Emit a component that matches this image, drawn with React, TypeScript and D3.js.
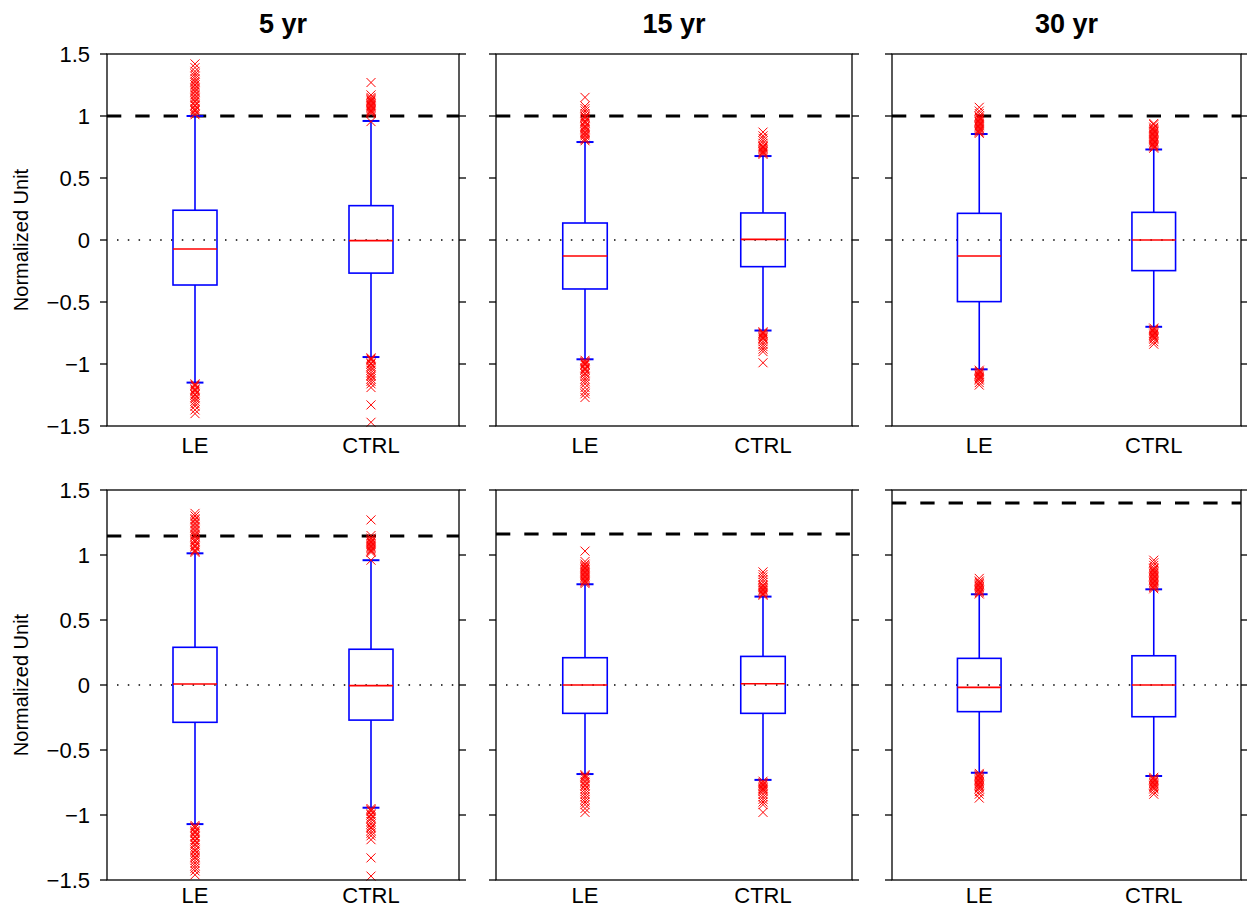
import React from 'react'
import * as d3 from 'd3'

const PERIODS = ['5 yr', '15 yr', '30 yr']
const GROUPS = ['LE', 'CTRL']
const Y_TICKS = [-1.5, -1, -0.5, 0, 0.5, 1, 1.5]

// panels go row by row: top row (5, 15, 30 yr), then bottom row
// each entry: [lower whisker, q1, median, q3, upper whisker]
const LE_STATS = [
  [-1.15, -0.363, -0.073, 0.24, 1.0],
  [-0.962, -0.395, -0.129, 0.137, 0.79],
  [-1.043, -0.497, -0.129, 0.215, 0.855],
  [-1.07, -0.287, 0.008, 0.29, 1.013],
  [-0.685, -0.218, 0.0, 0.21, 0.775],
  [-0.675, -0.205, -0.018, 0.205, 0.698]
]
const CTRL_STATS = [
  [-0.944, -0.267, -0.005, 0.277, 0.96],
  [-0.73, -0.215, 0.005, 0.218, 0.677],
  [-0.7, -0.247, 0.0, 0.223, 0.73],
  [-0.944, -0.27, -0.005, 0.275, 0.96],
  [-0.73, -0.218, 0.01, 0.22, 0.68],
  [-0.7, -0.244, 0.0, 0.225, 0.736]
]
const THRESHOLDS = [1.0, 1.0, 1.0, 1.146, 1.162, 1.4]

const LE_OUTLIERS = [
  [1.01, 1.02, 1.04, 1.05, 1.06, 1.08, 1.09, 1.11, 1.12, 1.14, 1.15, 1.17, 1.19, 1.2, 1.22, 1.23, 1.25, 1.27, 1.28, 1.3, 1.32, 1.34, 1.36, 1.39, 1.42,
    -1.16, -1.17, -1.18, -1.2, -1.21, -1.22, -1.24, -1.25, -1.27, -1.28, -1.3, -1.32, -1.34, -1.37, -1.4],
  [0.8, 0.81, 0.82, 0.84, 0.85, 0.86, 0.87, 0.89, 0.9, 0.91, 0.92, 0.94, 0.95, 0.96, 0.98, 0.99, 1.0, 1.02, 1.04, 1.06, 1.08, 1.15,
    -0.97, -0.98, -0.99, -1.0, -1.01, -1.03, -1.04, -1.05, -1.07, -1.08, -1.1, -1.12, -1.14, -1.16, -1.19, -1.22, -1.24, -1.27],
  [0.86, 0.87, 0.88, 0.89, 0.9, 0.91, 0.92, 0.93, 0.94, 0.95, 0.96, 0.97, 0.98, 0.99, 1.0, 1.02, 1.04, 1.07,
    -1.05, -1.06, -1.07, -1.08, -1.09, -1.1, -1.11, -1.12, -1.13, -1.15, -1.17],
  [1.02, 1.03, 1.04, 1.06, 1.07, 1.08, 1.1, 1.11, 1.12, 1.14, 1.15, 1.16, 1.18, 1.19, 1.21, 1.22, 1.24, 1.25, 1.27, 1.28, 1.3, 1.32,
    -1.08, -1.09, -1.1, -1.12, -1.13, -1.14, -1.16, -1.17, -1.19, -1.2, -1.22, -1.23, -1.25, -1.27, -1.28, -1.3, -1.32, -1.33, -1.35, -1.37, -1.39, -1.41, -1.43, -1.46],
  [0.78, 0.79, 0.8, 0.81, 0.82, 0.83, 0.84, 0.85, 0.86, 0.87, 0.88, 0.89, 0.9, 0.91, 0.92, 0.93, 0.95, 1.03,
    -0.69, -0.7, -0.71, -0.72, -0.74, -0.75, -0.77, -0.78, -0.8, -0.82, -0.84, -0.86, -0.88, -0.9, -0.92, -0.95, -0.98],
  [0.7, 0.71, 0.72, 0.73, 0.74, 0.75, 0.76, 0.77, 0.78, 0.79, 0.8, 0.82,
    -0.68, -0.69, -0.7, -0.71, -0.72, -0.73, -0.74, -0.75, -0.76, -0.77, -0.78, -0.79, -0.8, -0.82, -0.84, -0.87]
]
const CTRL_OUTLIERS = [
  [0.955, 1.02, 1.03, 1.04, 1.05, 1.06, 1.07, 1.08, 1.09, 1.1, 1.11, 1.12, 1.13, 1.14, 1.15, 1.17, 1.27,
    -0.95, -0.96, -0.97, -0.99, -1.0, -1.02, -1.03, -1.05, -1.07, -1.09, -1.1, -1.12, -1.14, -1.16, -1.19, -1.33, -1.47],
  [0.69, 0.7, 0.71, 0.72, 0.73, 0.74, 0.75, 0.76, 0.78, 0.8, 0.82, 0.84, 0.87,
    -0.74, -0.75, -0.76, -0.77, -0.78, -0.79, -0.8, -0.82, -0.84, -0.86, -0.88, -0.9, -0.99],
  [0.74, 0.75, 0.76, 0.77, 0.78, 0.79, 0.8, 0.81, 0.82, 0.83, 0.84, 0.85, 0.86, 0.87, 0.88, 0.89, 0.9, 0.91, 0.93, 0.94,
    -0.71, -0.72, -0.73, -0.74, -0.75, -0.76, -0.77, -0.78, -0.79, -0.8, -0.82, -0.84],
  [0.96, 1.02, 1.03, 1.04, 1.05, 1.06, 1.07, 1.08, 1.09, 1.1, 1.11, 1.12, 1.13, 1.15, 1.27,
    -0.95, -0.96, -0.97, -0.99, -1.0, -1.02, -1.03, -1.05, -1.07, -1.09, -1.1, -1.12, -1.14, -1.16, -1.19, -1.33, -1.47],
  [0.69, 0.7, 0.71, 0.72, 0.73, 0.74, 0.75, 0.76, 0.77, 0.79, 0.81, 0.83, 0.85, 0.87,
    -0.74, -0.75, -0.76, -0.77, -0.78, -0.79, -0.8, -0.81, -0.82, -0.84, -0.86, -0.88, -0.9, -0.92, -0.98],
  [0.74, 0.75, 0.76, 0.77, 0.78, 0.79, 0.8, 0.81, 0.82, 0.83, 0.84, 0.85, 0.86, 0.87, 0.88, 0.89, 0.9, 0.92, 0.94, 0.96,
    -0.71, -0.72, -0.73, -0.74, -0.75, -0.76, -0.77, -0.78, -0.79, -0.8, -0.82, -0.84]
]

const W = 1247
const H = 909
const FONT = '"Liberation Sans", Arial, Helvetica, sans-serif'
const COLS = [[107, 459], [496, 852], [892, 1241]]
const ROWS = [[54, 426], [490, 880]]
const TICK = 7
const BLUE = '#0000ff'
const RED = '#ff0000'

const fmt = (v: number) => (v < 0 ? '\u2212' + Math.abs(v) : String(v))

function Panel({ idx }: { idx: number }) {
  const row = Math.floor(idx / 3)
  const col = idx % 3
  const [x0, x1] = COLS[col]
  const [y0, y1] = ROWS[row]

  const x = d3.scaleLinear().domain([0.5, 2.5]).range([x0, x1])
  const y = d3.scaleLinear().domain([-1.5, 1.5]).range([y1, y0])

  const stats = [LE_STATS[idx], CTRL_STATS[idx]]
  const outliers = [LE_OUTLIERS[idx], CTRL_OUTLIERS[idx]]
  const boxHalf = 0.125
  const capHalf = 0.048
  const xm = 4.5
  const clipId = `clip${idx}`
  const labelY = row === 0 ? y1 + 27 : y1 + 23

  return (
    <g>
      <defs>
        <clipPath id={clipId}>
          <rect x={x0} y={y0} width={x1 - x0} height={y1 - y0} />
        </clipPath>
      </defs>

      {/* zero reference */}
      <line x1={x0 + 10} x2={x1} y1={y(0)} y2={y(0)} stroke="#000" strokeWidth={1.5} strokeDasharray="1.5,9.3" />
      {/* threshold */}
      <line
        x1={x0}
        x2={x1}
        y1={y(THRESHOLDS[idx])}
        y2={y(THRESHOLDS[idx])}
        stroke="#000"
        strokeWidth={3}
        strokeDasharray="14.3,14"
        clipPath={`url(#${clipId})`}
      />

      {GROUPS.map((g, gi) => {
        const [lo, q1, med, q3, hi] = stats[gi]
        const cx = x(gi + 1)
        const bl = x(gi + 1 - boxHalf)
        const br = x(gi + 1 + boxHalf)
        const cl = x(gi + 1 - capHalf)
        const cr = x(gi + 1 + capHalf)
        return (
          <g key={g}>
            <line x1={cx} x2={cx} y1={y(hi)} y2={y(q3)} stroke={BLUE} strokeWidth={1.6} />
            <line x1={cx} x2={cx} y1={y(q1)} y2={y(lo)} stroke={BLUE} strokeWidth={1.6} />
            <line x1={cl} x2={cr} y1={y(hi)} y2={y(hi)} stroke={BLUE} strokeWidth={2} />
            <line x1={cl} x2={cr} y1={y(lo)} y2={y(lo)} stroke={BLUE} strokeWidth={2} />
            <rect x={bl} y={y(q3)} width={br - bl} height={y(q1) - y(q3)} fill="none" stroke={BLUE} strokeWidth={1.6} />
            <line x1={bl} x2={br} y1={y(med)} y2={y(med)} stroke={RED} strokeWidth={1.6} />
            {outliers[gi].map((v, k) => (
              <path
                key={k}
                transform={`translate(${cx},${y(v)})`}
                d={`M${-xm},${-xm}L${xm},${xm}M${-xm},${xm}L${xm},${-xm}`}
                stroke={RED}
                strokeWidth={1}
                fill="none"
              />
            ))}
            <text x={cx} y={labelY} textAnchor="middle" fontSize={22} fontFamily={FONT} fill="#000">
              {g}
            </text>
          </g>
        )
      })}

      {/* frame and ticks */}
      <rect x={x0} y={y0} width={x1 - x0} height={y1 - y0} fill="none" stroke="#000" strokeWidth={1.3} />
      {Y_TICKS.map(t => (
        <g key={t}>
          <line x1={x0 - TICK} x2={x0} y1={y(t)} y2={y(t)} stroke="#000" strokeWidth={1.3} />
          <line x1={x1} x2={x1 + TICK} y1={y(t)} y2={y(t)} stroke="#000" strokeWidth={1.3} />
          {col === 0 && (
            <text x={x0 - 17} y={y(t)} dy="0.36em" textAnchor="end" fontSize={22} fontFamily={FONT} fill="#000">
              {fmt(t)}
            </text>
          )}
        </g>
      ))}

      {col === 0 && (
        <text
          transform={`translate(28,${(y0 + y1) / 2}) rotate(-90)`}
          textAnchor="middle"
          fontSize={20}
          fontFamily={FONT}
          fill="#000"
        >
          Normalized Unit
        </text>
      )}
      {row === 0 && (
        <text x={(x0 + x1) / 2} y={33} textAnchor="middle" fontSize={27} fontWeight="bold" fontFamily={FONT} fill="#000">
          {PERIODS[col]}
        </text>
      )}
    </g>
  )
}

export default function App() {
  return (
    <svg width={W} height={H} style={{ position: 'absolute', left: 0, top: 0, background: '#fff' }}>
      <rect width={W} height={H} fill="#fff" />
      {d3.range(6).map(i => (
        <Panel key={i} idx={i} />
      ))}
    </svg>
  )
}
